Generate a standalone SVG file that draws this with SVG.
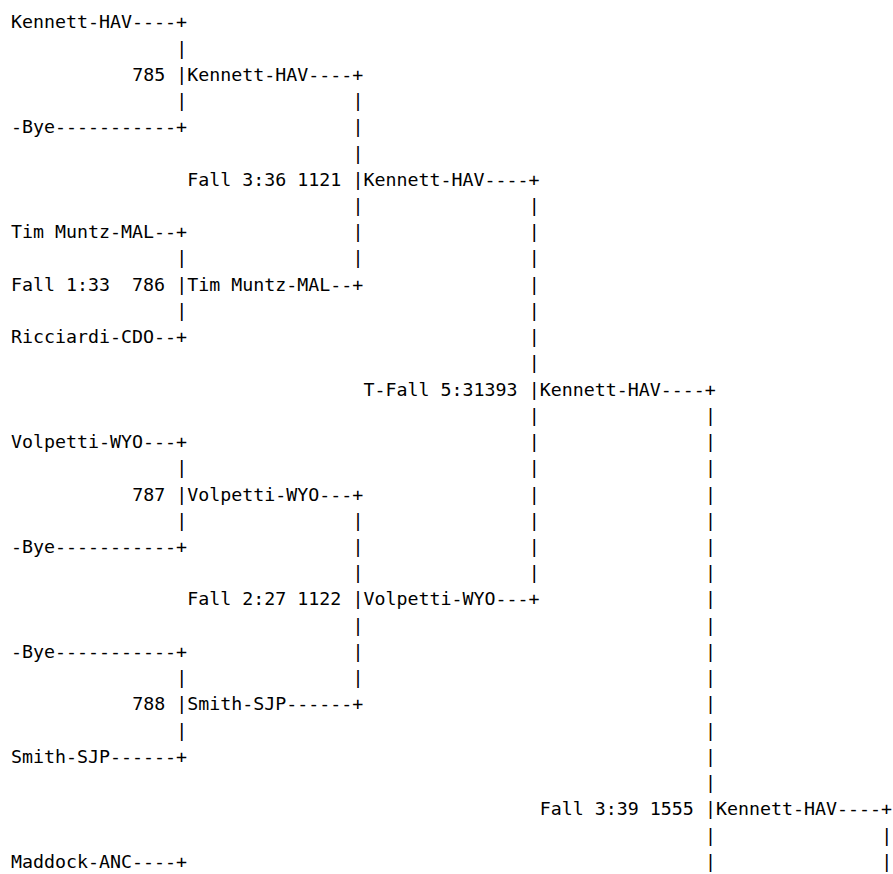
<svg xmlns="http://www.w3.org/2000/svg" width="893" height="874" viewBox="0 0 893 874">
<style>
text{font-family:"DejaVu Sans Mono","Liberation Mono",monospace;font-size:18.3px;fill:#000;white-space:pre}
</style>
<rect width="893" height="874" fill="#fff"/>
<g id="round1">
<g id="e1"><text x="11" y="28.4">Kennett-HAV----+</text></g>
<g id="e2"><text x="11" y="133.32">-Bye-----------+</text></g>
<g id="e3"><text x="11" y="238.24">Tim Muntz-MAL--+</text></g>
<g id="e4"><text x="11" y="343.16">Ricciardi-CDO--+</text></g>
<g id="e5"><text x="11" y="448.08">Volpetti-WYO---+</text></g>
<g id="e6"><text x="11" y="553">-Bye-----------+</text></g>
<g id="e7"><text x="11" y="657.92">-Bye-----------+</text></g>
<g id="e8"><text x="11" y="762.84">Smith-SJP------+</text></g>
<g id="e9"><text x="11" y="867.76">Maddock-ANC----+</text></g>
</g>
<g id="m785"><text x="132.18" y="80.86">785</text><text x="187.26" y="80.86">Kennett-HAV----+</text></g>
<g id="m786"><text x="11" y="290.7" xml:space="preserve">Fall 1:33  786</text><text x="187.26" y="290.7">Tim Muntz-MAL--+</text></g>
<g id="m787"><text x="132.18" y="500.54">787</text><text x="187.26" y="500.54">Volpetti-WYO---+</text></g>
<g id="m788"><text x="132.18" y="710.38">788</text><text x="187.26" y="710.38">Smith-SJP------+</text></g>
<g id="m1121"><text x="187.26" y="185.78">Fall 3:36 1121</text><text x="363.51" y="185.78">Kennett-HAV----+</text></g>
<g id="m1122"><text x="187.26" y="605.46">Fall 2:27 1122</text><text x="363.51" y="605.46">Volpetti-WYO---+</text></g>
<g id="m1393"><text x="363.51" y="395.62">T-Fall 5:31393</text><text x="539.77" y="395.62">Kennett-HAV----+</text></g>
<g id="m1555"><text x="539.77" y="815.3">Fall 3:39 1555</text><text x="716.02" y="815.3">Kennett-HAV----+</text></g>
<g id="connectors">
<text x="176.24" y="54.63">|</text><text x="176.24" y="80.86">|</text><text x="176.24" y="107.09">|</text>
<text x="176.24" y="264.47">|</text><text x="176.24" y="290.7">|</text><text x="176.24" y="316.93">|</text>
<text x="176.24" y="474.31">|</text><text x="176.24" y="500.54">|</text><text x="176.24" y="526.77">|</text>
<text x="176.24" y="684.15">|</text><text x="176.24" y="710.38">|</text><text x="176.24" y="736.61">|</text>
<text x="352.5" y="107.09">|</text><text x="352.5" y="133.32">|</text><text x="352.5" y="159.55">|</text><text x="352.5" y="185.78">|</text><text x="352.5" y="212.01">|</text><text x="352.5" y="238.24">|</text><text x="352.5" y="264.47">|</text>
<text x="352.5" y="526.77">|</text><text x="352.5" y="553">|</text><text x="352.5" y="579.23">|</text><text x="352.5" y="605.46">|</text><text x="352.5" y="631.69">|</text><text x="352.5" y="657.92">|</text><text x="352.5" y="684.15">|</text>
<text x="528.75" y="212.01">|</text><text x="528.75" y="238.24">|</text><text x="528.75" y="264.47">|</text><text x="528.75" y="290.7">|</text><text x="528.75" y="316.93">|</text><text x="528.75" y="343.16">|</text><text x="528.75" y="369.39">|</text><text x="528.75" y="395.62">|</text><text x="528.75" y="421.85">|</text><text x="528.75" y="448.08">|</text><text x="528.75" y="474.31">|</text><text x="528.75" y="500.54">|</text><text x="528.75" y="526.77">|</text><text x="528.75" y="553">|</text><text x="528.75" y="579.23">|</text>
<text x="705" y="421.85">|</text><text x="705" y="448.08">|</text><text x="705" y="474.31">|</text><text x="705" y="500.54">|</text><text x="705" y="526.77">|</text><text x="705" y="553">|</text><text x="705" y="579.23">|</text><text x="705" y="605.46">|</text><text x="705" y="631.69">|</text><text x="705" y="657.92">|</text><text x="705" y="684.15">|</text><text x="705" y="710.38">|</text><text x="705" y="736.61">|</text><text x="705" y="762.84">|</text><text x="705" y="789.07">|</text><text x="705" y="815.3">|</text><text x="705" y="841.53">|</text><text x="705" y="867.76">|</text>
<text x="881.26" y="841.53">|</text><text x="881.26" y="867.76">|</text>
</g>
</svg>
